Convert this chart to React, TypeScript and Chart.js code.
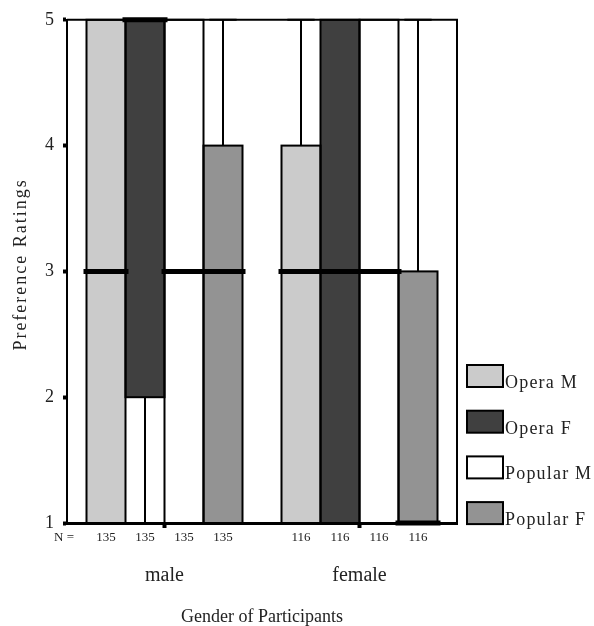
import React, { useEffect, useRef } from 'react';
import { Chart, registerables } from 'chart.js';

Chart.register(...registerables);

// ---- data ----
const groups = ['male', 'female'];
const seriesNames = ['Opera M', 'Opera F', 'Popular M', 'Popular F'];
const seriesColors = ['#cbcbcb', '#404040', '#ffffff', '#939393'];
// each row: one series, values for [male, female]
const lowerQuartiles = [[1, 1], [2, 1], [1, 1], [1, 1]];
const upperQuartiles = [[5, 4], [5, 5], [5, 5], [4, 3]];
const medians = [[3, 3], [5, 3], [3, 3], [3, 1]];
const minimums = [[1, 1], [1, 1], [1, 1], [1, 1]];
const maximums = [[5, 5], [5, 5], [5, 5], [5, 5]];
const sampleSizes = [[135, 116], [135, 116], [135, 116], [135, 116]];
const yTickValues = [1, 2, 3, 4, 5];
const yAxisTitle = 'Preference Ratings';
const xAxisTitle = 'Gender of Participants';

const FONT = "'Liberation Serif', 'Times New Roman', serif";
const TEXT = '#222';

const boxPlugin = {
  id: 'boxParts',
  afterDatasetsDraw(chart: any) {
    const ctx = chart.ctx;
    const ys = chart.scales.y;
    const area = chart.chartArea;
    const items: any[] = [];
    chart.data.datasets.forEach((ds: any, i: number) => {
      const meta = chart.getDatasetMeta(i);
      meta.data.forEach((el: any, j: number) => {
        const p = el.getProps(['x', 'width'], true);
        items.push({ i, j, x: p.x, w: p.width });
      });
    });
    ctx.save();
    ctx.strokeStyle = '#000';
    // outlines
    ctx.lineWidth = 2;
    items.forEach(({ i, j, x, w }) => {
      const top = ys.getPixelForValue(upperQuartiles[i][j]);
      const bot = ys.getPixelForValue(lowerQuartiles[i][j]);
      ctx.strokeRect(x - w / 2, top, w, bot - top);
    });
    // whiskers
    items.forEach(({ i, j, x, w }) => {
      const q3 = ys.getPixelForValue(upperQuartiles[i][j]);
      const q1 = ys.getPixelForValue(lowerQuartiles[i][j]);
      const mx = ys.getPixelForValue(maximums[i][j]);
      const mn = ys.getPixelForValue(minimums[i][j]);
      const cw = w * 0.35;
      if (maximums[i][j] > upperQuartiles[i][j]) {
        ctx.beginPath();
        ctx.moveTo(x, q3); ctx.lineTo(x, mx);
        ctx.moveTo(x - cw, mx); ctx.lineTo(x + cw, mx);
        ctx.stroke();
      }
      if (minimums[i][j] < lowerQuartiles[i][j]) {
        ctx.beginPath();
        ctx.moveTo(x, q1); ctx.lineTo(x, mn);
        ctx.moveTo(x - cw, mn); ctx.lineTo(x + cw, mn);
        ctx.stroke();
      }
    });
    // medians
    ctx.lineWidth = 5;
    items.forEach(({ i, j, x, w }) => {
      const m = ys.getPixelForValue(medians[i][j]);
      ctx.beginPath();
      ctx.moveTo(x - w / 2 - 3, m);
      ctx.lineTo(x + w / 2 + 3, m);
      ctx.stroke();
    });
    // frame top & right
    ctx.lineWidth = 2;
    ctx.beginPath();
    ctx.moveTo(area.left, area.top);
    ctx.lineTo(area.right, area.top);
    ctx.lineTo(area.right, area.bottom);
    ctx.stroke();
    // N labels
    ctx.fillStyle = TEXT;
    ctx.font = `13px ${FONT}`;
    ctx.textAlign = 'center';
    ctx.textBaseline = 'middle';
    ctx.fillText('N =', area.left - 3, area.bottom + 15);
    items.forEach(({ i, j, x }) => {
      ctx.fillText(String(sampleSizes[i][j]), x, area.bottom + 15);
    });
    // y axis title (letter-spaced)
    ctx.save();
    ctx.font = `18px ${FONT}`;
    (ctx as any).letterSpacing = '2px';
    ctx.translate(21, (area.top + area.bottom) / 2 - 7);
    ctx.rotate(-Math.PI / 2);
    ctx.textAlign = 'center';
    ctx.textBaseline = 'middle';
    ctx.fillText(yAxisTitle, 0, 0);
    ctx.restore();
    // legend
    const bw = 36, bh = 22, step = 45.7;
    const lx = area.right + 10;
    const ly0 = area.bottom - 158;
    ctx.font = `18px ${FONT}`;
    (ctx as any).letterSpacing = '1.2px';
    ctx.textAlign = 'left';
    ctx.textBaseline = 'alphabetic';
    chart.data.datasets.forEach((ds: any, i: number) => {
      const ty = ly0 + i * step;
      ctx.fillStyle = ds.backgroundColor;
      ctx.fillRect(lx, ty, bw, bh);
      ctx.lineWidth = 2;
      ctx.strokeStyle = '#000';
      ctx.strokeRect(lx, ty, bw, bh);
      ctx.fillStyle = TEXT;
      ctx.fillText(ds.label, lx + bw + 2, ty + bh + 1);
    });
    (ctx as any).letterSpacing = '0px';
    ctx.restore();
  },
};

export default function App() {
  const ref = useRef<HTMLCanvasElement | null>(null);
  useEffect(() => {
    if (!ref.current) return;
    const chart = new Chart(ref.current, {
      type: 'bar',
      data: {
        labels: groups,
        datasets: seriesNames.map((name, i) => ({
          label: name,
          data: groups.map((g, j) => [lowerQuartiles[i][j], upperQuartiles[i][j]]),
          backgroundColor: seriesColors[i],
          borderWidth: 0,
          categoryPercentage: 0.8,
          barPercentage: 1.0,
        })),
      },
      options: {
        animation: false,
        responsive: true,
        maintainAspectRatio: false,
        events: [],
        layout: { padding: { left: 0, top: 19, right: 137, bottom: 0 } },
        plugins: { legend: { display: false }, tooltip: { enabled: false } },
        scales: {
          x: {
            type: 'category',
            offset: true,
            grid: { display: true, drawOnChartArea: false, offset: false, tickLength: 5, tickWidth: 4, tickColor: '#000' },
            border: { display: true, color: '#000', width: 3 },
            ticks: { font: { family: FONT, size: 20 }, color: TEXT, padding: 36 },
            title: { display: true, text: xAxisTitle, font: { family: FONT, size: 18, lineHeight: 1.0 }, color: TEXT, padding: { top: 0, bottom: 0 } },
            afterFit: (s: any) => { s.height = 103; },
          },
          y: {
            min: 1,
            max: 5,
            afterBuildTicks: (s: any) => { s.ticks = yTickValues.map((v) => ({ value: v })); },
            ticks: { font: { family: FONT, size: 18 }, color: TEXT, padding: 9 },
            grid: { drawOnChartArea: false, tickLength: 4, tickWidth: 4, tickColor: '#000' },
            border: { display: true, color: '#000', width: 2 },
            title: { display: false, text: yAxisTitle },
            afterFit: (s: any) => { s.width = 67; },
          },
        },
      },
      plugins: [boxPlugin],
    });
    return () => chart.destroy();
  }, []);
  return (
    <div style={{ position: 'absolute', left: 0, top: 0, width: 594, height: 626 }}>
      <canvas ref={ref} />
    </div>
  );
}
